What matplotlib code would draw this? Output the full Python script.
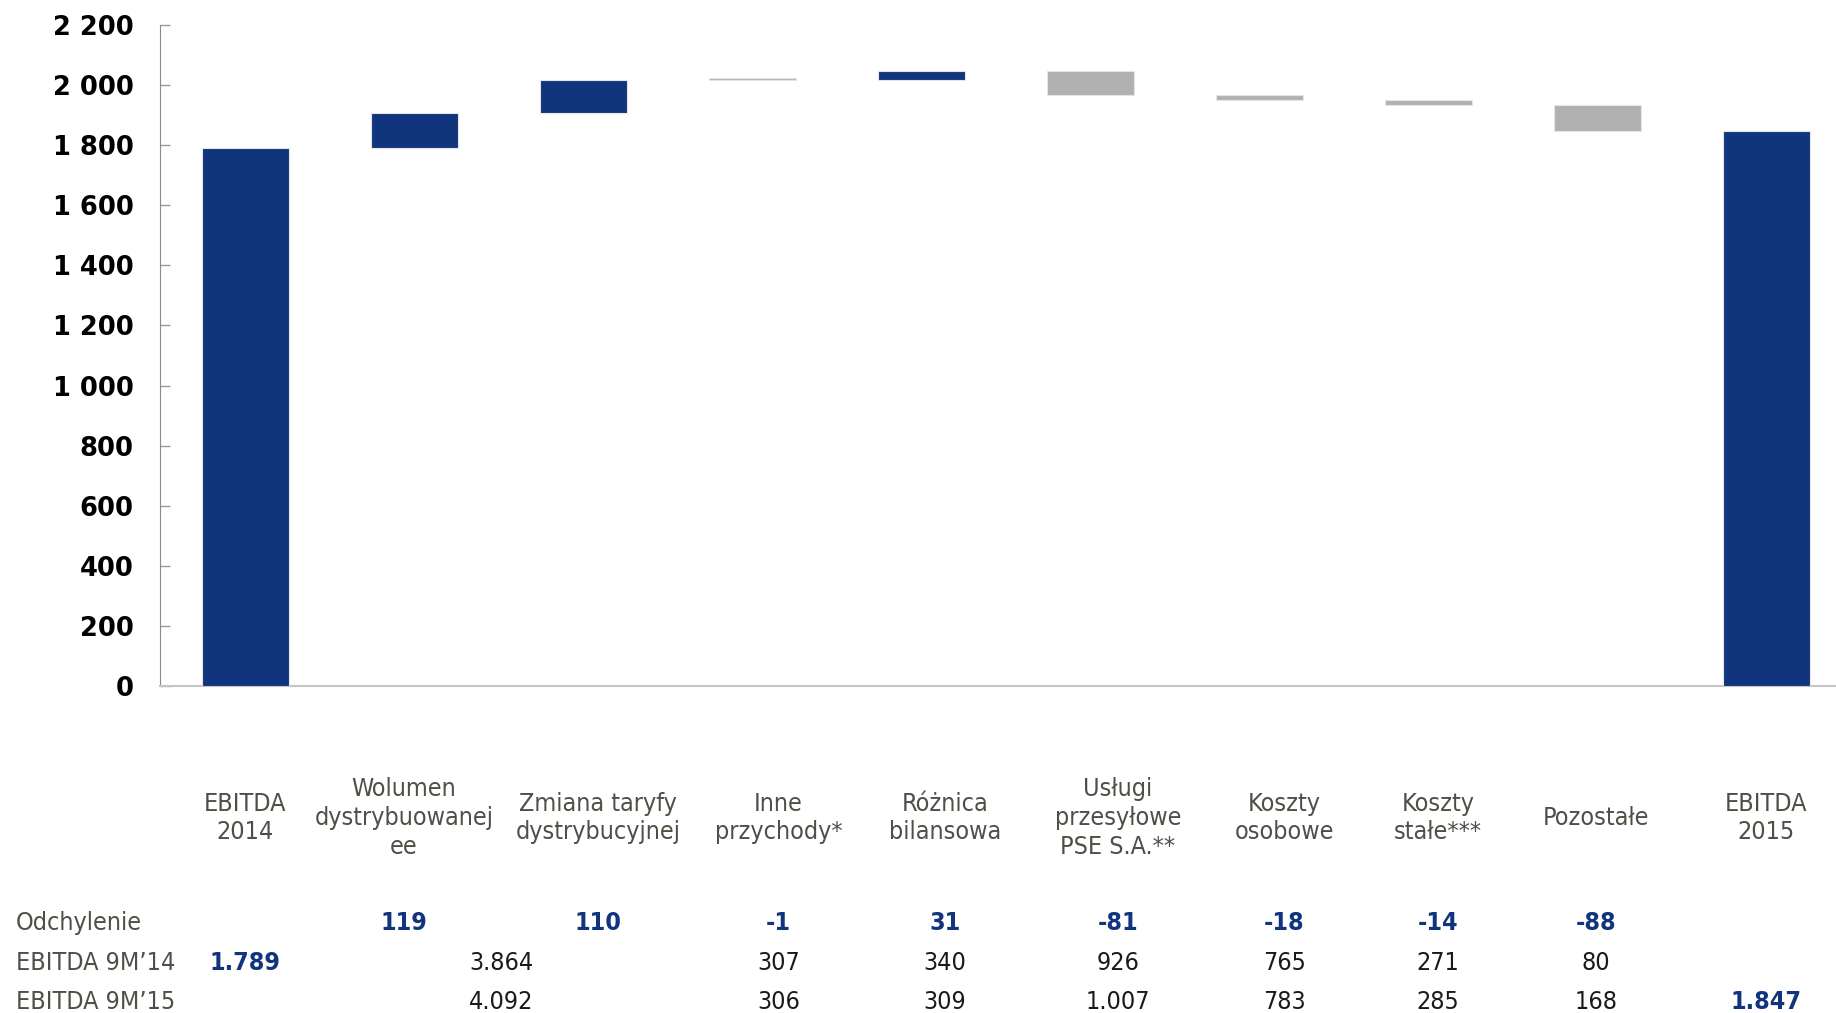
import numpy as np
import matplotlib
matplotlib.use("Agg")
import matplotlib.pyplot as plt
from matplotlib import font_manager

# ================= DATA =================
categories = ["EBITDA\n2014", "Wolumen\ndystrybuowanej\nee", "Zmiana taryfy\ndystrybucyjnej",
              "Inne\nprzychody*", "Różnica\nbilansowa", "Usługi\nprzesyłowe\nPSE S.A.**",
              "Koszty\nosobowe", "Koszty\nstałe***", "Pozostałe", "EBITDA\n2015"]
start_value = 1789
end_value = 1847
changes = [119, 110, -1, 31, -81, -18, -14, -88]

row_labels = ["Odchylenie", "EBITDA 9M’14", "EBITDA 9M’15"]
odchylenie = ["", "119", "110", "-1", "31", "-81", "-18", "-14", "-88", ""]
ebitda_9m14 = ["1.789", "", "", "307", "340", "926", "765", "271", "80", ""]
ebitda_9m15 = ["", "", "", "306", "309", "1.007", "783", "285", "168", "1.847"]
merged_14 = "3.864"   # spans columns 2-3
merged_15 = "4.092"

yticks = np.arange(0, 2201, 200)

# ================= STYLE =================
NAVY = "#10357C"
GRAY = "#B1B1B1"
LABEL_COL = "#4F4F47"
names = {f.name for f in font_manager.fontManager.ttflist}
NARROW = ["Liberation Sans Narrow"] if "Liberation Sans Narrow" in names else ["DejaVu Sans"]
TXT = dict(family=NARROW, fontstretch="condensed")

W, H = 1836, 1013
fig = plt.figure(figsize=(W / 100, H / 100), dpi=100)
ax = fig.add_axes([160 / W, 1 - 686 / H, 1 - 160 / W, (686 - 25) / H])

# ================= WATERFALL =================
n = len(categories)
x = np.arange(n)
bottoms, heights, colors = [0], [start_value], [NAVY]
level = start_value
for c in changes:
    if c >= 0:
        bottoms.append(level)
        heights.append(c)
        colors.append(NAVY)
    else:
        bottoms.append(level + c)
        heights.append(-c)
        colors.append(GRAY)
    level += c
bottoms.append(0)
heights.append(end_value)
colors.append(NAVY)

# very small moves still need a visible sliver
heights = [max(h, 8) for h in heights]
ax.bar(x, heights, bottom=bottoms, width=0.515, color=colors,
       edgecolor="#E4E4EC", linewidth=0.8, zorder=3)

ax.set_xlim(-0.505, 9.41)
ax.set_ylim(0, 2200)
ax.set_yticks(yticks)
ax.set_yticklabels([f"{v:,}".replace(",", " ") for v in yticks],
                   fontsize=18.5, fontweight="bold", family="DejaVu Sans")
ax.tick_params(axis="y", direction="in", length=7, width=1, color="#999999", pad=19)
ax.set_xticks([])
for s in ["top", "right"]:
    ax.spines[s].set_visible(False)
ax.spines["left"].set_color("#8A8A8A")
ax.spines["bottom"].set_color("#C4C4C4")
ax.spines["bottom"].set_linewidth(1.5)

# ================= LABELS / TABLE =================
col_x = [244.7, 404, 598.3, 778.6, 945, 1118, 1284.5, 1437.9, 1596, 1765.7]
for cx, lab in zip(col_x, categories):
    fig.text(cx / W, 1 - 818 / H, lab, ha="center", va="center", fontsize=18,
             color=LABEL_COL, linespacing=1.25, **TXT)

row_y = [923, 963, 1002]
for ry, lab in zip(row_y, row_labels):
    fig.text(16 / W, 1 - ry / H, lab, ha="left", va="center", fontsize=18,
             color=LABEL_COL, **TXT)

for cx, v in zip(col_x, odchylenie):
    if v:
        fig.text(cx / W, 1 - row_y[0] / H, v, ha="center", va="center", fontsize=18,
                 color=NAVY, fontweight="bold", **TXT)

for ry, row, merged in [(row_y[1], ebitda_9m14, merged_14), (row_y[2], ebitda_9m15, merged_15)]:
    for i, (cx, v) in enumerate(zip(col_x, row)):
        if not v:
            continue
        bold = i in (0, n - 1)
        fig.text(cx / W, 1 - ry / H, v, ha="center", va="center", fontsize=18,
                 color=NAVY if bold else "#1A1A1A",
                 fontweight="bold" if bold else "normal", **TXT)
    mx = (col_x[1] + col_x[2]) / 2
    fig.text(mx / W, 1 - ry / H, merged, ha="center", va="center", fontsize=18,
             color="#1A1A1A", **TXT)

fig.savefig("out.png", dpi=100)
